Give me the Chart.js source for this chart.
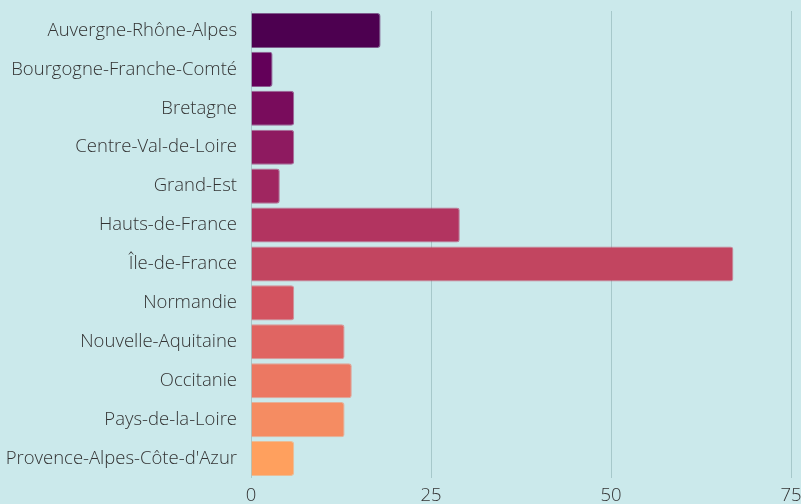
<!DOCTYPE html>
<html>
<head>
<meta charset="utf-8">
<script src="https://cdn.jsdelivr.net/npm/chart.js@4"></script>
<style>
  html, body { margin: 0; padding: 0; background: #cbe9eb; overflow: hidden; }
  #wrap { width: 801px; height: 504px; }
</style>
</head>
<body>
<div id="wrap"><canvas id="chart" width="801" height="504"></canvas></div>
<script>
// régions et valeurs
const regions = ['Auvergne-Rhône-Alpes', 'Bourgogne-Franche-Comté', 'Bretagne', 'Centre-Val-de-Loire',
  'Grand-Est', 'Hauts-de-France', 'Île-de-France', 'Normandie', 'Nouvelle-Aquitaine',
  'Occitanie', 'Pays-de-la-Loire', "Provence-Alpes-Côte-d'Azur"];
const values = [18, 3, 6, 6, 4, 29, 67, 6, 13, 14, 13, 6];
const xTicks = [0, 25, 50, 75];
const barColors = ['#4d0050', '#630059', '#790c5c', '#8e1a60', '#a02660', '#b23460',
  '#c24560', '#d35360', '#e06562', '#ec7862', '#f58c62', '#ffa05e'];

const tickFont = { family: 'Open Sans', size: 18.5, weight: 300 };

const ctx = document.getElementById('chart').getContext('2d');
new Chart(ctx, {
  type: 'bar',
  data: {
    labels: regions,
    datasets: [{
      data: values,
      backgroundColor: barColors,
      borderColor: barColors.map(c => c + '99'),
      borderWidth: 1,
      borderRadius: 3,
      borderSkipped: 'start',
      barPercentage: 0.9,
      categoryPercentage: 1
    }]
  },
  options: {
    indexAxis: 'y',
    responsive: false,
    animation: false,
    layout: { padding: { top: 11 } },
    plugins: { legend: { display: false }, tooltip: { enabled: false } },
    scales: {
      x: {
        min: 0, max: 75,
        afterBuildTicks: axis => { axis.ticks = xTicks.map(v => ({ value: v })); },
        afterFit: axis => { axis.height = 26; axis.paddingRight = 10; axis.paddingLeft = 0; },
        grid: { color: '#a6c8ca', drawTicks: false, lineWidth: 1 },
        border: { display: false },
        ticks: { color: '#333', padding: 7, font: tickFont }
      },
      y: {
        afterFit: axis => { axis.width = 251; axis.paddingTop = 0; axis.paddingBottom = 0; },
        grid: { display: false, drawTicks: false },
        border: { display: false },
        ticks: { color: '#333', padding: 14, font: tickFont }
      }
    }
  }
});
</script>
</body>
</html>
